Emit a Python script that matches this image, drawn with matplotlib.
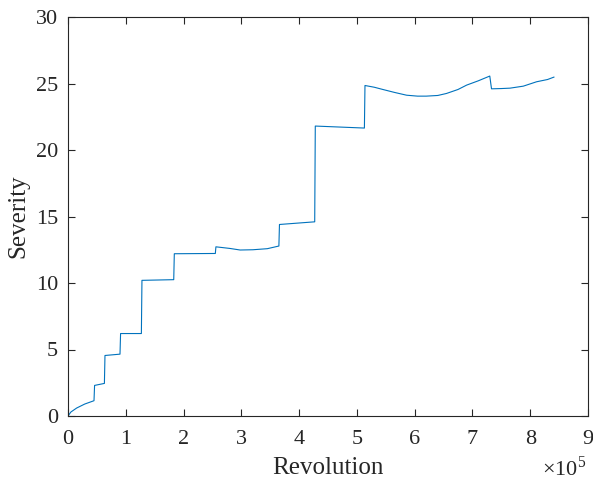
import matplotlib
matplotlib.use("Agg")
import matplotlib.pyplot as plt
from matplotlib.ticker import FuncFormatter

plt.rcParams['font.family'] = ['Liberation Serif', 'DejaVu Serif']
plt.rcParams['mathtext.fontset'] = 'custom'
plt.rcParams['mathtext.rm'] = 'Liberation Serif'

# Revolution (in units of 1e5) and severity values
revolution_e5 = [0, 0.05, 0.15, 0.29, 0.45, 0.46, 0.63, 0.64, 0.90, 0.91,
                 1.27, 1.28, 1.83, 1.84, 2.55, 2.56, 2.80, 2.98, 3.20, 3.45,
                 3.65, 3.66, 4.27, 4.28, 5.13, 5.14, 5.30, 5.45, 5.65, 5.86,
                 6.05, 6.20, 6.40, 6.55, 6.75, 6.90, 7.10, 7.30, 7.33, 7.50,
                 7.65, 7.88, 8.11, 8.30, 8.41]
severity = [0, 0.30, 0.60, 0.90, 1.15, 2.30, 2.45, 4.55, 4.65, 6.20,
            6.20, 10.20, 10.25, 12.20, 12.22, 12.72, 12.60, 12.48, 12.50, 12.58,
            12.78, 14.40, 14.60, 21.80, 21.65, 24.85, 24.72, 24.55, 24.33, 24.12,
            24.05, 24.05, 24.10, 24.25, 24.55, 24.88, 25.20, 25.56, 24.60, 24.62,
            24.65, 24.80, 25.13, 25.30, 25.48]

x_ticks = [0, 1, 2, 3, 4, 5, 6, 7, 8, 9]
y_ticks = [0, 5, 10, 15, 20, 25, 30]

revolution = [v * 1e5 for v in revolution_e5]

fig = plt.figure(figsize=(5.93, 4.82), dpi=100)
ax = fig.add_axes([68/593, 66/482, 520/593, 399/482])

ax.plot(revolution, severity, color='#0072BD', lw=0.8)

ax.set_xlim(0, 9e5)
ax.set_ylim(0, 30)
ax.set_xticks([t * 1e5 for t in x_ticks])
ax.xaxis.set_major_formatter(FuncFormatter(lambda v, p: f"{v/1e5:g}"))
ax.set_yticks(y_ticks)

dark = '#262626'
for s in ax.spines.values():
    s.set_color(dark)
    s.set_linewidth(0.8)
ax.tick_params(direction='in', length=5, width=0.8, colors=dark,
               labelsize=16, top=True, right=True)
ax.tick_params(axis='x', pad=10)
ax.tick_params(axis='y', pad=7)
ax.set_xlabel('Revolution', fontsize=18, color=dark, labelpad=6)
ax.set_ylabel('Severity', fontsize=18, color=dark, labelpad=5)
ax.text(0.997, -0.101, r'$\times 10^{5}$', transform=ax.transAxes,
        ha='right', va='top', fontsize=16, color=dark)

fig.savefig('out.png', dpi=100)
